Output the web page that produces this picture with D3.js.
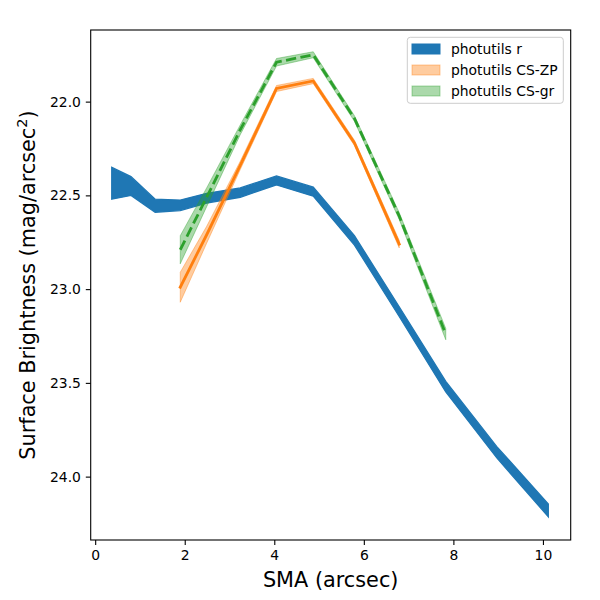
<!DOCTYPE html>
<html><head><meta charset="utf-8">
<script src="https://cdn.jsdelivr.net/npm/d3@7"></script>
<style>body{margin:0;background:#fff}svg{font-family:"DejaVu Sans",sans-serif}</style>
</head><body>
<script>
// Data
const rSma   = [0.37, 0.80, 1.34, 1.90, 2.49, 3.24, 4.05, 4.87, 5.79, 6.79, 7.83, 8.97, 10.12];
const rMag   = [22.435, 22.45, 22.555, 22.553, 22.515, 22.485, 22.42, 22.48, 22.74, 23.12, 23.52, 23.87, 24.18];
const rErr   = [0.085, 0.05, 0.035, 0.028, 0.026, 0.025, 0.024, 0.024, 0.025, 0.026, 0.028, 0.03, 0.034];

const zpSma  = [1.90, 2.49, 3.24, 4.05, 4.87, 5.79, 6.79];
const zpMag  = [22.99, 22.71, 22.34, 21.93, 21.89, 22.22, 22.76];
const zpErr  = [0.08, 0.045, 0.022, 0.016, 0.014, 0.014, 0.02];

const grSma  = [1.90, 2.49, 3.24, 4.05, 4.87, 5.79, 6.79, 7.83];
const grMag  = [22.79, 22.51, 22.15, 21.79, 21.75, 22.09, 22.61, 23.24];
const grErr  = [0.075, 0.05, 0.026, 0.02, 0.016, 0.015, 0.018, 0.03];

const xTicks = [0, 2, 4, 6, 8, 10];
const yTicks = [22.0, 22.5, 23.0, 23.5, 24.0];
const legendLabels = ["photutils r", "photutils CS-ZP", "photutils CS-gr"];

const W = 600, H = 600;
const L = 90.7, R = 570.7, T = 30, B = 540;
const svg = d3.select("body").append("svg").attr("width", W).attr("height", H);

const x = d3.scaleLinear().domain([-0.1, 10.62]).range([L, R]);
const y = d3.scaleLinear().domain([21.618, 24.338]).range([T, B]);

const clip = svg.append("clipPath").attr("id","c").append("rect")
  .attr("x", L).attr("y", T).attr("width", R-L).attr("height", B-T);
const g = svg.append("g").attr("clip-path","url(#c)");

function rows(s, m, e){ return s.map((v,i)=>({x:v, y:m[i], e:e[i]})); }
const area = d3.area().x(d=>x(d.x)).y0(d=>y(d.y - d.e)).y1(d=>y(d.y + d.e));
const line = d3.line().x(d=>x(d.x)).y(d=>y(d.y));

const blue = "#1f77b4", orange = "#ff7f0e", green = "#2ca02c";

// blue band (opaque)
const rD = rows(rSma, rMag, rErr);
g.append("path").datum(rD).attr("d", area).attr("fill", blue).attr("stroke", blue).attr("stroke-width", 1.3);

// orange
const zD = rows(zpSma, zpMag, zpErr);
g.append("path").datum(zD).attr("d", area).attr("fill", orange).attr("fill-opacity", 0.4)
  .attr("stroke", orange).attr("stroke-opacity", 0.4).attr("stroke-width", 1);
g.append("path").datum(zD).attr("d", line).attr("fill","none").attr("stroke", orange)
  .attr("stroke-width", 2.8).attr("stroke-linecap","square");

// green
const gD = rows(grSma, grMag, grErr);
g.append("path").datum(gD).attr("d", area).attr("fill", green).attr("fill-opacity", 0.4)
  .attr("stroke", green).attr("stroke-opacity", 0.4).attr("stroke-width", 1);
g.append("path").datum(gD).attr("d", line).attr("fill","none").attr("stroke", green)
  .attr("stroke-width", 2.8).attr("stroke-dasharray", "10.3,4.4");

// axes
const xAxis = d3.axisBottom(x).tickValues(xTicks).tickFormat(d3.format("d")).tickSizeOuter(0).tickSize(4.9).tickPadding(4.9);
const yAxis = d3.axisLeft(y).tickValues(yTicks).tickFormat(d3.format(".1f")).tickSizeOuter(0).tickSize(4.9).tickPadding(4.9);
const gx = svg.append("g").attr("transform", `translate(0,${B})`).call(xAxis);
const gy = svg.append("g").attr("transform", `translate(${L},0)`).call(yAxis);
[gx, gy].forEach(a=>{
  a.select(".domain").remove();
  a.selectAll("text").attr("font-size", 13.9).attr("font-family","DejaVu Sans").attr("fill","#000");
  a.selectAll("line").attr("stroke","#000").attr("stroke-width",1.1);
});
svg.append("rect").attr("x", L).attr("y", T).attr("width", R-L).attr("height", B-T)
  .attr("fill","none").attr("stroke","#000").attr("stroke-width",1.1);

// axis labels
svg.append("text").attr("x", (L+R)/2).attr("y", 587).attr("text-anchor","middle")
  .attr("font-size", 20.8).text("SMA (arcsec)");
const yl = svg.append("text").attr("transform", `translate(35,${(T+B)/2}) rotate(-90)`)
  .attr("text-anchor","middle").attr("font-size", 20.8);
yl.append("tspan").text("Surface Brightness (mag/arcsec");
yl.append("tspan").attr("baseline-shift","super").attr("font-size", 14.5).text("2");
yl.append("tspan").text(")");

// legend
const lg = svg.append("g");
lg.append("rect").attr("x", 407.3).attr("y", 37.3).attr("width", 156).attr("height", 66)
  .attr("rx", 3).attr("fill","#fff").attr("fill-opacity",0.8).attr("stroke","#cccccc").attr("stroke-width",1);
const legC = [[blue,1],[orange,0.4],[green,0.4]];
legendLabels.forEach((t,i)=>{
  const cy = 49 + i*21;
  lg.append("rect").attr("x", 412).attr("y", cy-5).attr("width", 28).attr("height", 10)
    .attr("fill", legC[i][0]).attr("fill-opacity", legC[i][1])
    .attr("stroke", legC[i][0]).attr("stroke-opacity", legC[i][1]).attr("stroke-width",1);
  lg.append("text").attr("x", 451).attr("y", cy+5).attr("font-size", 13.9).text(t);
});
</script>
</body></html>
